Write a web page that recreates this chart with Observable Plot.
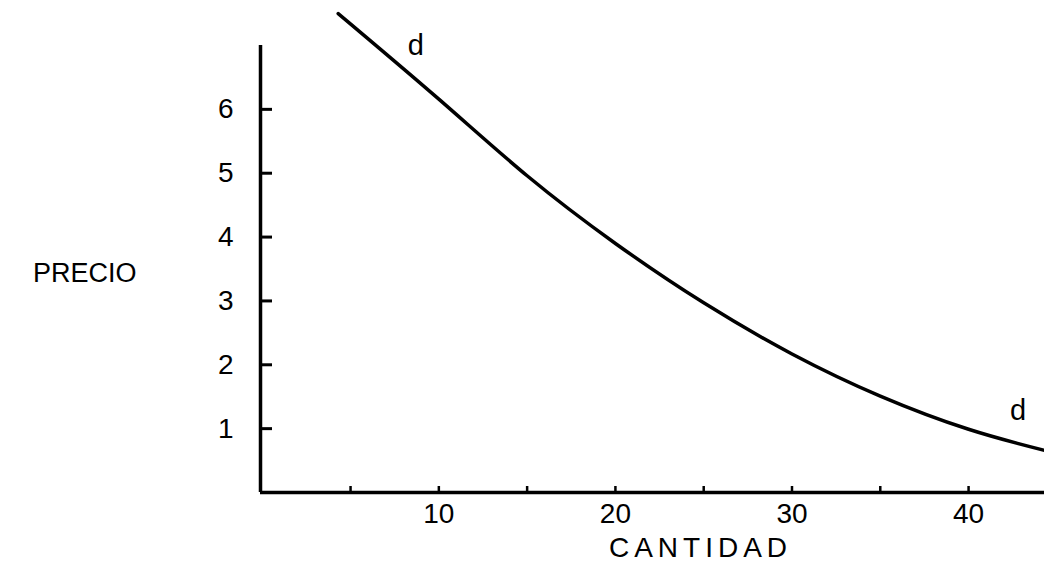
<!DOCTYPE html>
<html>
<head>
<meta charset="utf-8">
<script src="https://cdn.jsdelivr.net/npm/d3@7"></script>
<script src="https://cdn.jsdelivr.net/npm/@observablehq/plot@0.6"></script>
<style>
  html, body { margin: 0; padding: 0; background: #fff; }
  #chart svg { display: block; }
</style>
</head>
<body>
<div id="chart"></div>
<script>
// Demand curve "d": quantity (CANTIDAD) vs price (PRECIO)
const cantidad = [4.3, 10, 15, 20, 25, 30, 35, 40, 44.3];
const precio   = [7.5, 6.16, 4.96, 3.90, 2.97, 2.17, 1.51, 0.99, 0.66];
const yTicks = [1, 2, 3, 4, 5, 6];
const xTicks = [5, 10, 15, 20, 25, 30, 35, 40];
const xTickLabels = [10, 20, 30, 40];
const curveLabels = [{x: 8.7, y: 7.0, t: "d"}, {x: 42.8, y: 1.28, t: "d"}];
const yTitle = "PRECIO";
const xTitle = "CANTIDAD";
const xDomain = [-0.1, 44.3];
const yDomain = [0, 7];

const data = cantidad.map((q, i) => ({q, p: precio[i]}));
const font = "Liberation Sans, Arial, sans-serif";

const chart = Plot.plot({
  width: 1044,
  height: 576,
  marginLeft: 260,
  marginRight: 0,
  marginTop: 45,
  marginBottom: 84,
  style: {fontFamily: font, fontSize: "28px", color: "#000", background: "#fff"},
  x: {domain: xDomain},
  y: {domain: yDomain},
  marks: [
    Plot.axisY({ticks: yTicks, tickSize: -12, tickPadding: 39, strokeWidth: 3, fontSize: 28, label: null,
      tickFormat: d => String(d)}),
    Plot.axisX({ticks: xTicks, tickSize: -6, tickPadding: 17, strokeWidth: 2.5, fontSize: 28, label: null,
      tickFormat: d => xTickLabels.includes(d) ? String(d) : ""}),
    Plot.ruleY([0], {stroke: "#000", strokeWidth: 3.5}),
    Plot.ruleX([xDomain[0]], {stroke: "#000", strokeWidth: 3.5}),
    Plot.line(data, {x: "q", y: "p", curve: "natural", stroke: "#000", strokeWidth: 3.5}),
    Plot.text(curveLabels, {x: "x", y: "y", text: "t", fontSize: 29, fill: "#000"}),
    Plot.text([yTitle], {frameAnchor: "left", dx: -124, dy: 4, textAnchor: "end", fontSize: 27, fill: "#000"}),
    Plot.text([xTitle], {frameAnchor: "bottom", dx: 48, dy: 64, textAnchor: "middle", fontSize: 28, fill: "#000"})
  ]
});
d3.select(chart).selectAll("text").filter(function() { return this.textContent === xTitle; })
  .attr("letter-spacing", "5px");
document.getElementById("chart").appendChild(chart);
</script>
</body>
</html>
